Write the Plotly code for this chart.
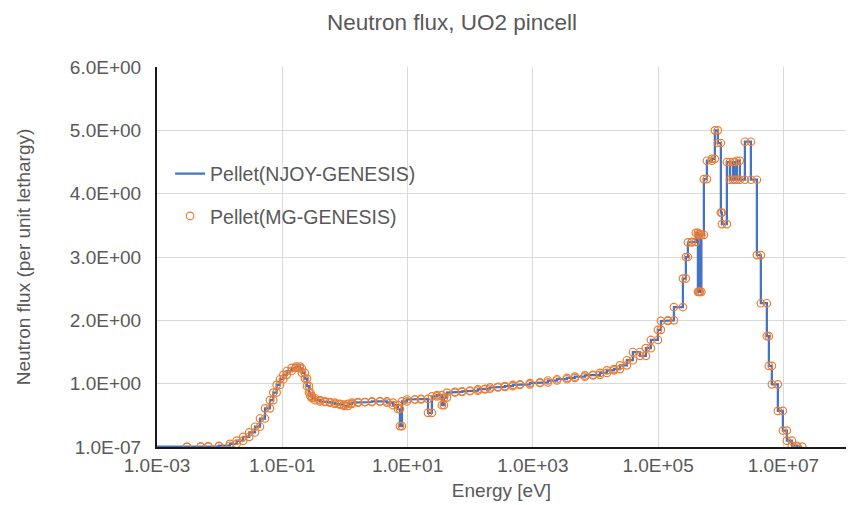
import plotly.graph_objects as go

# Group boundaries (eV) and group fluxes (per unit lethargy)
energy_edges = [
    1e-5, 3.01e-3, 4.98e-3, 6.59e-3, 9.76e-3, 1.46e-2, 1.87e-2, 2.38e-2, 2.97e-2, 3.67e-2,
    4.41e-2, 5.30e-2, 6.36e-2, 7.18e-2, 8.14e-2, 9.19e-2, 0.104, 0.118, 0.141, 0.166,
    0.192, 0.206, 0.230, 0.248, 0.267, 0.282, 0.298, 0.333, 0.400, 0.480,
    0.577, 0.694, 0.834, 0.966, 1.12, 1.30, 1.62, 2.09, 2.70, 3.63,
    4.69, 5.85, 7.03, 7.56, 8.14, 9.78, 13.1, 16.4, 21.2, 24.5,
    29.5, 35.4, 38.1, 42.6, 57.1, 73.9, 99.1, 133, 172, 207,
    277, 359, 481, 623, 899, 1300, 1740, 2430, 3500, 4700,
    6790, 9110, 11800, 15200, 19700, 24600, 31800, 39600, 51200, 63900,
    76800, 99300, 1.11e5, 1.43e5, 1.79e5, 2.49e5, 2.78e5, 2.99e5, 3.46e5, 4.01e5,
    4.32e5, 4.48e5, 4.65e5, 4.91e5, 5.38e5, 6.01e5, 7.22e5, 8.06e5, 9.00e5, 1.005e6,
    1.043e6, 1.254e6, 1.40e6, 1.563e6, 1.682e6, 1.81e6, 2.02e6, 2.43e6, 3.03e6, 3.78e6,
    4.37e6, 5.45e6, 5.87e6, 6.55e6, 8.17e6, 9.82e6, 1.137e7, 1.366e7, 1.642e7, 2.0e7,
]

group_flux = [
    0.003, 0.004, 0.006, 0.01, 0.02, 0.05, 0.10, 0.16, 0.23, 0.32,
    0.45, 0.61, 0.74, 0.86, 0.98, 1.07, 1.14, 1.20, 1.25, 1.27,
    1.24, 1.17, 1.08, 0.96, 0.86, 0.80, 0.77, 0.74, 0.72, 0.71,
    0.70, 0.68, 0.67, 0.65, 0.68, 0.70, 0.71, 0.71, 0.72, 0.72,
    0.70, 0.66, 0.60, 0.33, 0.72, 0.75, 0.75, 0.76, 0.54, 0.80,
    0.82, 0.66, 0.78, 0.86, 0.87, 0.88, 0.89, 0.91, 0.92, 0.94,
    0.95, 0.96, 0.98, 0.99, 1.01, 1.02, 1.05, 1.07, 1.09, 1.11,
    1.13, 1.14, 1.17, 1.21, 1.23, 1.29, 1.37, 1.50, 1.44, 1.56,
    1.69, 1.85, 1.99, 2.00, 2.21, 2.66, 3.00, 3.23, 3.24, 3.38,
    2.45, 3.36, 2.45, 3.35, 4.23, 4.52, 4.55, 5.00, 4.80, 3.70,
    3.52, 4.50, 4.22, 4.50, 4.22, 4.52, 4.22, 4.82, 4.22, 3.03,
    2.27, 1.75, 1.28, 0.99, 0.57, 0.26, 0.10, 0.02, 0.005,
]

x_tick_vals = [1e-3, 1e-1, 1e1, 1e3, 1e5, 1e7]
x_tick_text = ["1.0E-03", "1.0E-01", "1.0E+01", "1.0E+03", "1.0E+05", "1.0E+07"]
y_tick_vals = [1e-7, 1, 2, 3, 4, 5, 6]
y_tick_text = ["1.0E-07", "1.0E+00", "2.0E+00", "3.0E+00", "4.0E+00", "5.0E+00", "6.0E+00"]

# Build step representation (each group gives two points: lower and upper edge)
step_x, step_y = [], []
for i, f in enumerate(group_flux):
    step_x += [energy_edges[i], energy_edges[i + 1]]
    step_y += [f, f]

FONT = "Liberation Sans, Arial, sans-serif"
GREY = "#595959"

fig = go.Figure()
fig.add_trace(go.Scatter(
    x=step_x, y=step_y, mode="lines", name="Pellet(NJOY-GENESIS)",
    line=dict(color="#4472C4", width=2.25), legendgroup="a",
))
fig.add_trace(go.Scatter(
    x=step_x, y=step_y, mode="markers", name="Pellet(MG-GENESIS)",
    marker=dict(symbol="circle-open", color="#ED7D31", size=7.5, line=dict(width=1.2, color="#ED7D31")),
    legendgroup="b",
))

fig.update_layout(
    width=848, height=505,
    margin=dict(l=157, r=2, t=67, b=58),
    paper_bgcolor="white", plot_bgcolor="white",
    font=dict(family=FONT, color=GREY, size=19),
    title=dict(text="Neutron flux, UO2 pincell", x=0.533, xanchor="center", y=0.957, yanchor="middle",
               font=dict(size=22.5, color=GREY, family=FONT)),
    showlegend=True,
    legend=dict(x=0.019, y=0.77, xanchor="left", yanchor="top", bgcolor="rgba(0,0,0,0)",
                font=dict(size=19.5, color=GREY, family=FONT), tracegroupgap=14, itemwidth=30),
)
fig.update_xaxes(
    type="log", range=[-3, 8], tickvals=x_tick_vals, ticktext=x_tick_text,
    showgrid=True, gridcolor="#D9D9D9", gridwidth=1,
    showline=True, linecolor="#1a1a1a", linewidth=2, zeroline=False,
    ticks="", tickfont=dict(size=19, color=GREY, family=FONT),
    title=dict(text="Energy [eV]", font=dict(size=19, color=GREY, family=FONT), standoff=9),
    automargin=False,
)
fig.update_yaxes(
    range=[0, 6], tickvals=y_tick_vals, ticktext=y_tick_text,
    showgrid=True, gridcolor="#D9D9D9", gridwidth=1,
    showline=True, linecolor="#1a1a1a", linewidth=2, zeroline=False,
    ticks="outside", ticklen=10, tickcolor="rgba(0,0,0,0)",
    tickfont=dict(size=19, color=GREY, family=FONT),
    title=dict(text="Neutron flux (per unit lethargy)", font=dict(size=19, color=GREY, family=FONT), standoff=34),
    automargin=False,
)

fig.write_html(
    "out.html",
    config={"displayModeBar": False},
    post_script="document.body.style.margin='0';document.body.style.overflow='hidden';",
)
